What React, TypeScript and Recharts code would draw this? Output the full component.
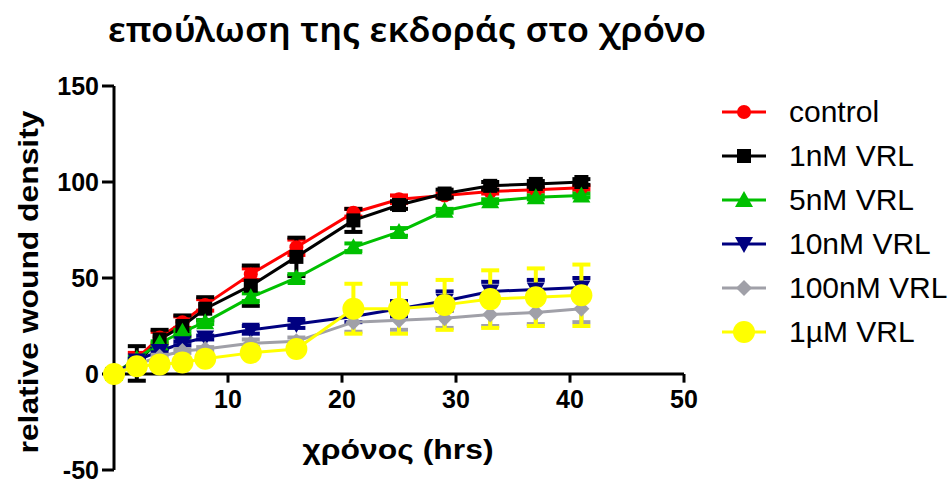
import { LineChart, Line, XAxis, YAxis, ErrorBar, ReferenceLine } from 'recharts';

const time = [0, 2, 4, 6, 8, 12, 16, 21, 25, 29, 33, 37, 41];

const control = [0, 8, 19, 27, 36, 52, 66, 84, 91, 93, 95, 96, 97];
const controlErr = [0, 3, 3, 3, 3, 3, 4, 2, 2, 1, 1, 1, 1];
const vrl1nM = [0, 5.5, 18, 25, 34, 46, 61, 80, 88, 94, 98, 99, 100];
const vrl1nMErr = [0, 9, 5, 5.5, 6, 10.5, 10, 6, 2, 2, 2, 1.5, 1.5];
const vrl5nM = [0, 8, 16, 22, 27, 40, 50, 66, 74, 85, 90, 92, 93];
const vrl5nMErr = [0, 1, 1, 1, 1, 2, 2, 2, 2, 1, 1, 1, 1];
const vrl10nM = [0, 7, 12, 16, 19, 23, 26, 30, 34, 38, 43, 44, 45];
const vrl10nMErr = [0, 1, 1, 1, 1, 2, 2, 3, 4, 5, 5, 5, 5];
const vrl100nM = [0, 5, 9, 12, 13, 16, 17, 27, 28, 29, 31, 32, 34];
const vrl100nMErr = [0, 1, 1, 1, 1, 2, 2, 5, 5, 5, 6, 6, 7];
const vrl1uM = [0, 4, 5, 6, 8, 11, 13, 34, 34, 36, 39, 40, 41];
const vrl1uMErr = [0, 1, 1, 1, 1, 1, 1, 13, 13, 13, 15, 15, 16];

const xTicks = [10, 20, 30, 40, 50];
const yTicks = [-50, 0, 50, 100, 150];

const data = time.map((t, i) => ({
  t,
  control: control[i], controlErr: controlErr[i],
  vrl1nM: vrl1nM[i], vrl1nMErr: vrl1nMErr[i],
  vrl5nM: vrl5nM[i], vrl5nMErr: vrl5nMErr[i],
  vrl10nM: vrl10nM[i], vrl10nMErr: vrl10nMErr[i],
  vrl100nM: vrl100nM[i], vrl100nMErr: vrl100nMErr[i],
  vrl1uM: vrl1uM[i], vrl1uMErr: vrl1uMErr[i],
}));

type Shape = 'circle' | 'square' | 'up' | 'down' | 'diamond' | 'bigcircle';

const SERIES: { key: string; name: string; color: string; shape: Shape }[] = [
  { key: 'control', name: 'control', color: '#ff0000', shape: 'circle' },
  { key: 'vrl1nM', name: '1nM VRL', color: '#000000', shape: 'square' },
  { key: 'vrl5nM', name: '5nM VRL', color: '#00c000', shape: 'up' },
  { key: 'vrl10nM', name: '10nM VRL', color: '#000080', shape: 'down' },
  { key: 'vrl100nM', name: '100nM VRL', color: '#a0a0a8', shape: 'diamond' },
  { key: 'vrl1uM', name: '1µM VRL', color: '#ffff00', shape: 'bigcircle' },
];

const FONT = '"Liberation Sans", Arial, sans-serif';

function Marker({ cx, cy, shape, color }: { cx: number; cy: number; shape: Shape; color: string }) {
  if (cx == null || cy == null) return null;
  switch (shape) {
    case 'circle':
      return <circle cx={cx} cy={cy} r={7} fill={color} />;
    case 'square':
      return <rect x={cx - 7} y={cy - 7} width={14} height={14} fill={color} />;
    case 'up':
      return <polygon points={`${cx},${cy - 9} ${cx + 9},${cy + 7} ${cx - 9},${cy + 7}`} fill={color} />;
    case 'down':
      return <polygon points={`${cx},${cy + 9} ${cx + 9},${cy - 7} ${cx - 9},${cy - 7}`} fill={color} />;
    case 'diamond':
      return <polygon points={`${cx},${cy - 8} ${cx + 8},${cy} ${cx},${cy + 8} ${cx - 8},${cy}`} fill={color} />;
    default:
      return <circle cx={cx} cy={cy} r={11} fill={color} />;
  }
}

function LegendBox() {
  return (
    <div style={{ position: 'absolute', left: 720, top: 90, fontFamily: FONT, fontSize: 30, color: '#000' }}>
      {SERIES.map((s) => (
        <div key={s.key} style={{ display: 'flex', alignItems: 'center', height: 44, whiteSpace: 'nowrap' }}>
          <svg width={50} height={30} style={{ marginRight: 19 }}>
            <line x1={2} y1={15} x2={46} y2={15} stroke={s.color} strokeWidth={3} />
            <Marker cx={24} cy={15} shape={s.shape} color={s.color} />
          </svg>
          <span>{s.name}</span>
        </div>
      ))}
    </div>
  );
}

export default function App() {
  return (
    <div style={{ position: 'absolute', left: 0, top: 0, width: 952, height: 484, background: '#fff', overflow: 'hidden' }}>
      <LineChart width={952} height={484} data={data} margin={{ top: 86, right: 268, bottom: 14, left: 0 }}>
        <XAxis dataKey="t" type="number" domain={[0, 50]} hide />
        <YAxis
          type="number"
          domain={[-50, 150]}
          ticks={yTicks}
          interval={0}
          width={114}
          axisLine={{ stroke: '#000', strokeWidth: 3 }}
          tickLine={{ stroke: '#000', strokeWidth: 3 }}
          tickSize={12}
          tickMargin={3}
          tick={{ fill: '#000', fontSize: 25, fontWeight: 700, fontFamily: FONT }}
        />
        <ReferenceLine segment={[{ x: 0, y: 0 }, { x: 50, y: 0 }]} stroke="#000" strokeWidth={3} />
        {xTicks.map((t) => (
          <ReferenceLine
            key={t}
            segment={[{ x: t, y: 0 }, { x: t, y: -4.5 }]}
            stroke="#000"
            strokeWidth={3}
            label={{ value: String(t), position: 'bottom', offset: 8, fill: '#000', fontSize: 25, fontWeight: 700, fontFamily: FONT }}
          />
        ))}
        {SERIES.map((s) => (
          <Line
            key={s.key}
            dataKey={s.key}
            name={s.name}
            type="linear"
            stroke={s.color}
            strokeWidth={3}
            isAnimationActive={false}
            dot={(p: any) => <Marker key={`${s.key}-${p.index}`} cx={p.cx} cy={p.cy} shape={s.shape} color={s.color} />}
            activeDot={false}
          >
            <ErrorBar dataKey={`${s.key}Err`} width={9} strokeWidth={4} stroke={s.color} isAnimationActive={false} />
          </Line>
        ))}
      </LineChart>
      <LegendBox />
      <svg width={952} height={484} style={{ position: 'absolute', left: 0, top: 0, pointerEvents: 'none' }}>
        <text x={407} y={42} textAnchor="middle" fontFamily='"Noto Sans", sans-serif' fontWeight={600} fontSize={34}
          textLength={598} lengthAdjust="spacingAndGlyphs">
          επούλωση της εκδοράς στο χρόνο
        </text>
        <text x={398} y={459} textAnchor="middle" fontFamily={FONT} fontWeight={700} fontSize={27}
          textLength={191} lengthAdjust="spacingAndGlyphs">
          χρόνος (hrs)
        </text>
        <text transform="translate(38,282) rotate(-90)" textAnchor="middle" fontFamily={FONT} fontWeight={700} fontSize={27}
          textLength={343} lengthAdjust="spacingAndGlyphs">
          relative wound density
        </text>
      </svg>
    </div>
  );
}
